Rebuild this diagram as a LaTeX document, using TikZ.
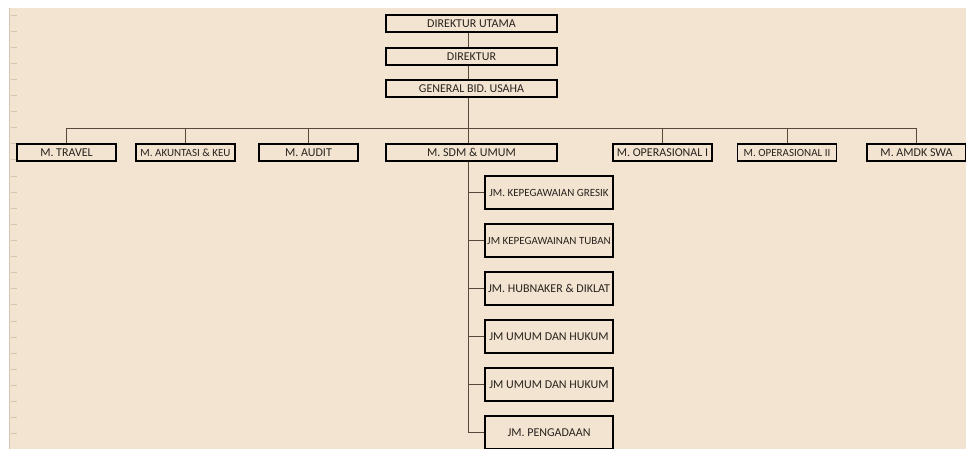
\documentclass[tikz,border=0pt]{standalone}
\usepackage{fontspec}
\setmainfont{Carlito}
\definecolor{paper}{RGB}{243,228,209}
\definecolor{wirec}{RGB}{85,72,60}
\definecolor{tickc}{RGB}{214,196,176}
\definecolor{inkc}{RGB}{40,34,30}

\begin{document}
\begin{tikzpicture}[x=1pt,y=-1pt,
    post/.style={draw=black,line width=1.5pt,fill=paper,inner sep=0pt,
      minimum height=17pt,text=inkc,font=\fontsize{12}{14}\selectfont},
    dirbox/.style={post,minimum width=171pt},
    mbox/.style={post,minimum width=99pt},
    jmbox/.style={post,minimum width=128pt,minimum height=33pt},
    small/.style={font=\fontsize{11}{13}\selectfont},
    wire/.style={draw=wirec,line width=0.9pt}]
  \useasboundingbox (0,0) rectangle (966,449);
  % sheet and ruler marks
  \fill[paper] (9,8) rectangle (966,449);
  \draw[tickc,line width=0.6pt] (9,8) -- (9,449);
  \foreach \i in {0,...,27}
    \draw[tickc,line width=0.8pt] (11,15+16.1*\i) -- (17,15+16.1*\i);
  \coordinate (spine) at (468,0);
  \coordinate (bus) at (0,128);

  % top of the chart
  \node[dirbox] (dirut) at (471.5,23.5) {DIREKTUR UTAMA};
  \node[dirbox] (dir) at (471.5,56.5) {DIREKTUR};
  \node[dirbox] (gbu) at (471.5,88.5) {GENERAL BID. USAHA};

  % managers
  \node[mbox] (travel) at (66.5,152.5) {M. TRAVEL};
  \node[mbox,small] (akun) at (185.5,152.5) {M. AKUNTASI \& KEU};
  \node[mbox] (audit) at (308.5,152.5) {M. AUDIT};
  \node[dirbox] (sdm) at (471.5,152.5) {M. SDM \& UMUM};
  \node[mbox] (op1) at (662.5,152.5) {M. OPERASIONAL I};
  \node[mbox,small] (op2) at (787,152.5) {M. OPERASIONAL II};
  \node[mbox] (amdk) at (916.5,152.5) {M. AMDK SWA};

  % under M. SDM & UMUM
  \node[jmbox,small] (jm0) at (549,192.5) {JM. KEPEGAWAIAN GRESIK};
  \node[jmbox,small] (jm1) at (549,240.5) {JM KEPEGAWAINAN TUBAN};
  \node[jmbox] (jm2) at (549,288.5) {JM. HUBNAKER \& DIKLAT};
  \node[jmbox] (jm3) at (549,336.5) {JM UMUM DAN HUKUM};
  \node[jmbox] (jm4) at (549,384.5) {JM UMUM DAN HUKUM};
  \node[jmbox] (jm5) at (549,432.5) {JM. PENGADAAN};

  \draw[wire] (dirut.south -| spine) -- (dir.north -| spine);
  \draw[wire] (dir.south -| spine) -- (gbu.north -| spine);
  \draw[wire] (gbu.south -| spine) -- (sdm.north -| spine);
  \draw[wire] (travel.north) -- (travel.north |- bus) -- (amdk.north |- bus) -- (amdk.north);
  \foreach \n in {akun,audit,op1,op2}
    \draw[wire] (\n.north) -- (\n.north |- bus);
  \draw[wire] (sdm.south -| spine) -- (jm5.west -| spine) -- (jm5.west);
  \foreach \k in {0,...,4}
    \draw[wire] (jm\k.west -| spine) -- (jm\k.west);
\end{tikzpicture}
\end{document}
